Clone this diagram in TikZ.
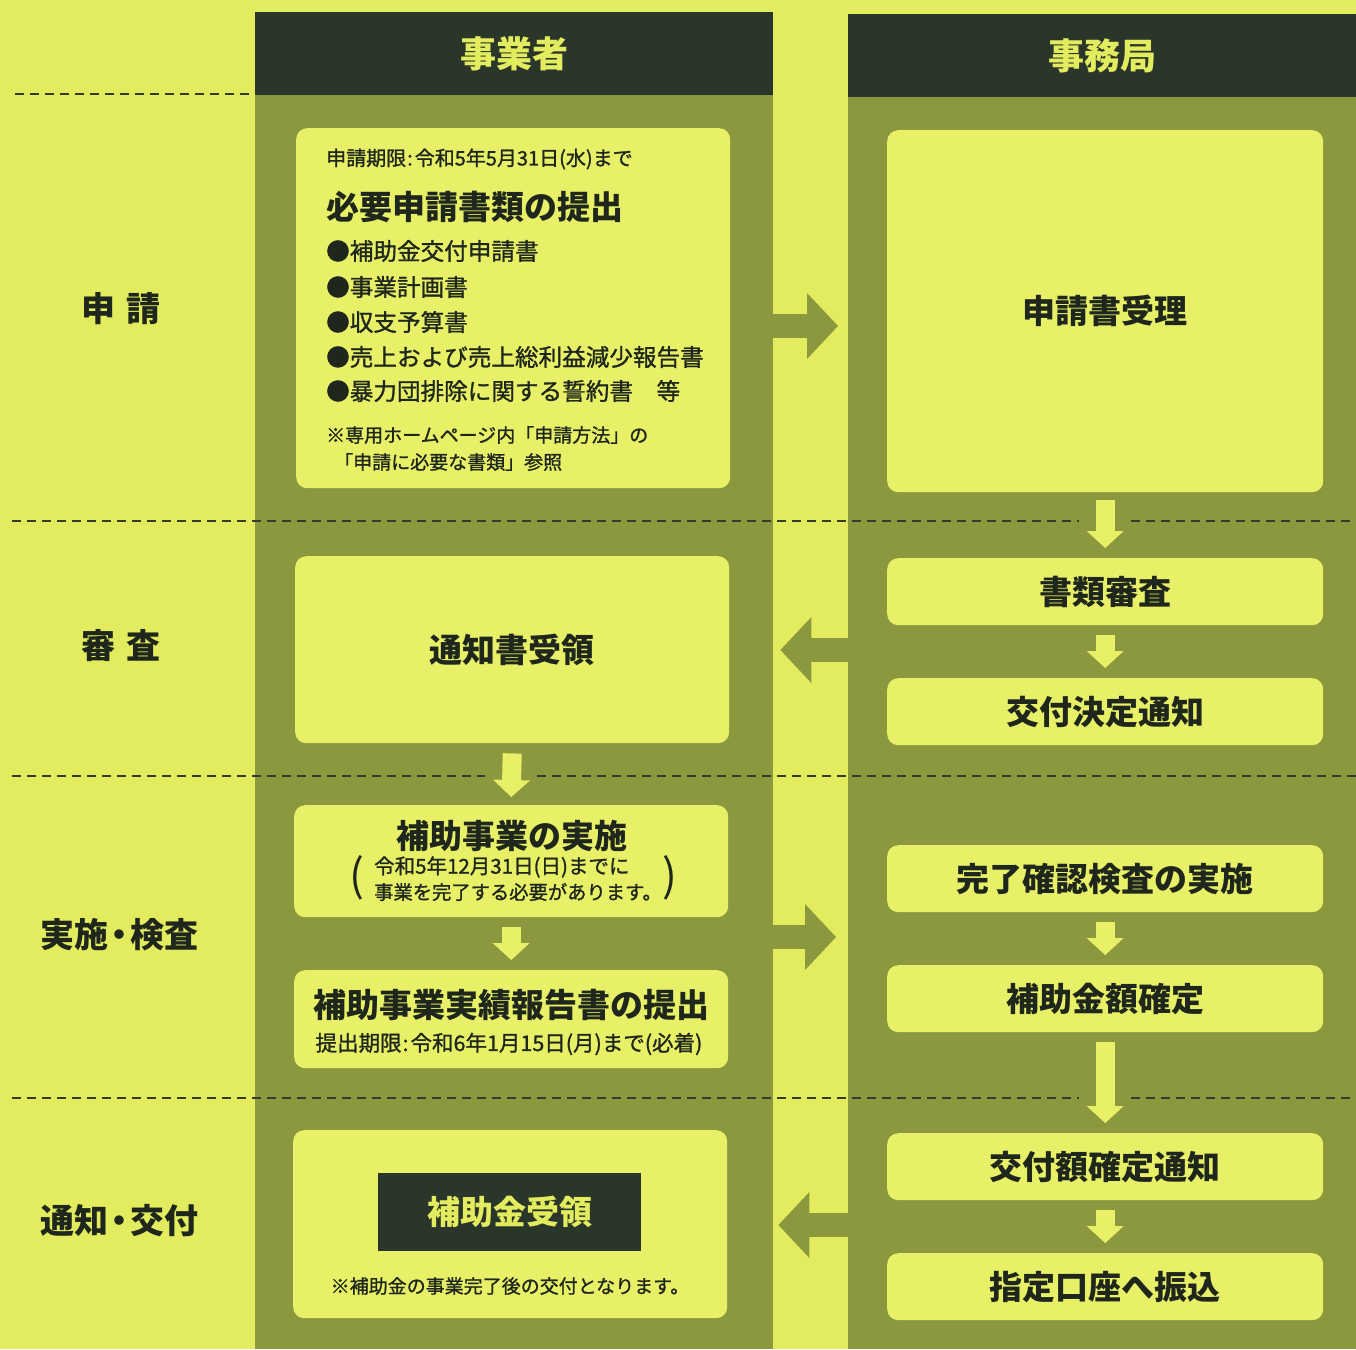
\documentclass[tikz,border=0pt]{standalone}
\usepackage{fontspec}
\setmainfont{Noto Sans CJK JP}
\usetikzlibrary{arrows.meta,calc}
\definecolor{bgY}{HTML}{E2EC5E}
\definecolor{boxY}{HTML}{E8F068}
\definecolor{olive}{HTML}{8B983E}
\definecolor{hdr}{HTML}{2A362A}
\definecolor{ink}{HTML}{1F271C}
\definecolor{dashc}{HTML}{353B2C}
\newcommand\jpsz[1]{\fontsize{#1}{#1}\selectfont}
\newcommand\jpmed[1]{\fontsize{#1}{#1}\selectfont\addfontfeature{FakeBold=1.2}}
\tikzset{
  colbox/.style={fill=olive, inner sep=0pt, anchor=north west},
  hdrbox/.style={fill=hdr, inner sep=0pt, anchor=north west, text=bgY, font=\bfseries\jpsz{36}},
  panel/.style={fill=boxY, rounded corners=11pt, inner sep=0pt, anchor=north west, text=ink, font=\bfseries\jpsz{33}},
  darkpanel/.style={fill=hdr, inner sep=0pt, anchor=north west, text=bgY, font=\bfseries\jpsz{33}},
  txt/.style={inner sep=0pt, text=ink, anchor=west},
  rowlabel/.style={inner sep=0pt, text=ink, font=\bfseries\jpsz{34}},
  dashline/.style={draw=dashc, line width=1.5pt, dash pattern=on 9pt off 6pt},
  darrow/.style={draw=boxY, line width=19pt, -{Triangle[width=37pt,length=17pt,line width=0pt]}},
  harrow/.style={draw=olive, line width=24pt, -{Triangle[width=66pt,length=31pt,line width=0pt]}},
}
\begin{document}
\begin{tikzpicture}[x=1pt,y=-1pt]
\useasboundingbox (0,0) rectangle (1356,1349);
\fill[bgY] (0,0) rectangle (1356,1349);

% columns
\node[colbox, minimum width=518pt, minimum height=1337pt] (colL) at (255,12) {};
\node[colbox, minimum width=508pt, minimum height=1335pt] (colR) at (848,14) {};
\node[hdrbox, minimum width=518pt, minimum height=83pt] (hL) at (255,12) {事業者};
\node[hdrbox, minimum width=508pt, minimum height=83pt] (hR) at (848,14) {事務局};

% dashed separators
\draw[dashline] (15,94) -- (256,94);
\draw[dashline] (12,521) -- (1079,521);
\draw[dashline] (1131,521) -- (1356,521);
\draw[dashline] (12,776) -- (485,776);
\draw[dashline] (537,776) -- (1356,776);
\draw[dashline] (12,1098) -- (1079,1098);
\draw[dashline] (1131,1098) -- (1356,1098);

% row labels
\node[rowlabel] (lab1) at (121,309) {申\hspace{12pt}請};
\node[rowlabel] (lab2) at (121,646) {審\hspace{12pt}査};
\node[rowlabel] (lab3) at (119,935) {実施\kern-6pt・\kern-6pt検査};
\node[rowlabel] (lab4) at (119,1221) {通知\kern-6pt・\kern-6pt交付};

% left column panels
\node[panel, minimum width=434pt, minimum height=360pt] (L1) at (296,128) {};
\node[panel, minimum width=434pt, minimum height=187pt] (L2) at (295,556) {通知書受領};
\node[panel, minimum width=434pt, minimum height=112pt] (L3) at (294,805) {};
\node[panel, minimum width=434pt, minimum height=98pt] (L4) at (294,970) {};
\node[panel, minimum width=434pt, minimum height=188pt] (L5) at (293,1130) {};
\node[darkpanel, minimum width=263pt, minimum height=78pt] (L5d) at (378,1173) {補助金受領};

% right column panels
\node[panel, minimum width=436pt, minimum height=362pt] (R1) at (887,130) {申請書受理};
\node[panel, minimum width=436pt, minimum height=67pt] (R2) at (887,558) {書類審査};
\node[panel, minimum width=436pt, minimum height=67pt] (R3) at (887,678) {交付決定通知};
\node[panel, minimum width=436pt, minimum height=67pt] (R4) at (887,845) {完了確認検査の実施};
\node[panel, minimum width=436pt, minimum height=67pt] (R5) at (887,965) {補助金額確定};
\node[panel, minimum width=436pt, minimum height=67pt] (R6) at (887,1133) {交付額確定通知};
\node[panel, minimum width=436pt, minimum height=67pt] (R7) at (887,1253) {指定口座へ振込};

% texts in L1
\node[txt, font=\jpmed{20}] (t1) at (326,159) {申請期限\kern1pt:\kern2pt令和5年5月31日(水)まで};
\node[txt, font=\bfseries\jpsz{33}] (t2) at (326,207) {必要申請書類の提出};
\node[txt, font=\jpmed{23.6}] (t3) at (326,251) {●補助金交付申請書};
\node[txt, font=\jpmed{23.6}] (t4) at (326,287) {●事業計画書};
\node[txt, font=\jpmed{23.6}] (t5) at (326,322) {●収支予算書};
\node[txt, font=\jpmed{23.6}] (t6) at (326,357) {●売上および売上総利益減少報告書};
\node[txt, font=\jpmed{23.6}] (t7) at (326,391) {●暴力団排除に関する誓約書　等};
\node[txt, font=\jpmed{19}] (t8) at (326,435) {※専用ホームページ内「申請方法」の};
\node[txt, font=\jpmed{19}] (t9) at (334,462) {「申請に必要な書類」参照};

% texts in L3 / L4 / L5
\node[inner sep=0pt, text=ink, font=\bfseries\jpsz{33}] (t10) at (512,836) {補助事業の実施};
\node[txt, font=\jpmed{20.5}] (t11) at (374,867) {令和5年12月31日(日)までに};
\node[txt, font=\jpmed{19.3}] (t12) at (374,892) {事業を完了する必要があります。};
\node[inner sep=0pt, text=ink, font=\jpsz{44}] (pl) at (357,878) {(};
\node[inner sep=0pt, text=ink, font=\jpsz{44}] (pr) at (670,878) {)};
\node[inner sep=0pt, text=ink, font=\bfseries\jpsz{33}] (t13) at (511,1005) {補助事業実績報告書の提出};
\node[inner sep=0pt, text=ink, font=\jpmed{21.5}] (t14) at (509,1044) {提出期限\kern1pt:\kern2pt令和6年1月15日(月)まで(必着)};
\node[inner sep=0pt, text=ink, font=\jpmed{19}] (t15) at (510,1286) {※補助金の事業完了後の交付となります。};

% vertical arrows
\draw[darrow] ([yshift=-8pt]R1.south) -- ([yshift=10pt]R2.north);
\draw[darrow] ([yshift=-10pt]R2.south) -- ([yshift=10pt]R3.north);
\draw[darrow] ([yshift=-10pt]R4.south) -- ([yshift=10pt]R5.north);
\draw[darrow] ([yshift=-10pt]R5.south) -- ([yshift=10pt]R6.north);
\draw[darrow] ([yshift=-10pt]R6.south) -- ([yshift=10pt]R7.north);
\draw[darrow] ([yshift=-10pt]L2.south) -- ([yshift=8pt]L3.north);
\draw[darrow] ([yshift=-10pt]L3.south) -- ([yshift=10pt]L4.north);

% horizontal arrows between columns
\coordinate (y1) at (0,326);
\coordinate (y2) at (0,650);
\coordinate (y3) at (0,937);
\coordinate (y4) at (0,1225);
\draw[harrow, shorten >=10pt] (colL.east |- y1) -- (colR.west |- y1);
\draw[harrow, shorten >=7pt] (colR.west |- y2) -- (colL.east |- y2);
\draw[harrow, shorten >=12pt] (colL.east |- y3) -- (colR.west |- y3);
\draw[harrow, shorten >=5pt] (colR.west |- y4) -- (colL.east |- y4);
\end{tikzpicture}
\end{document}
